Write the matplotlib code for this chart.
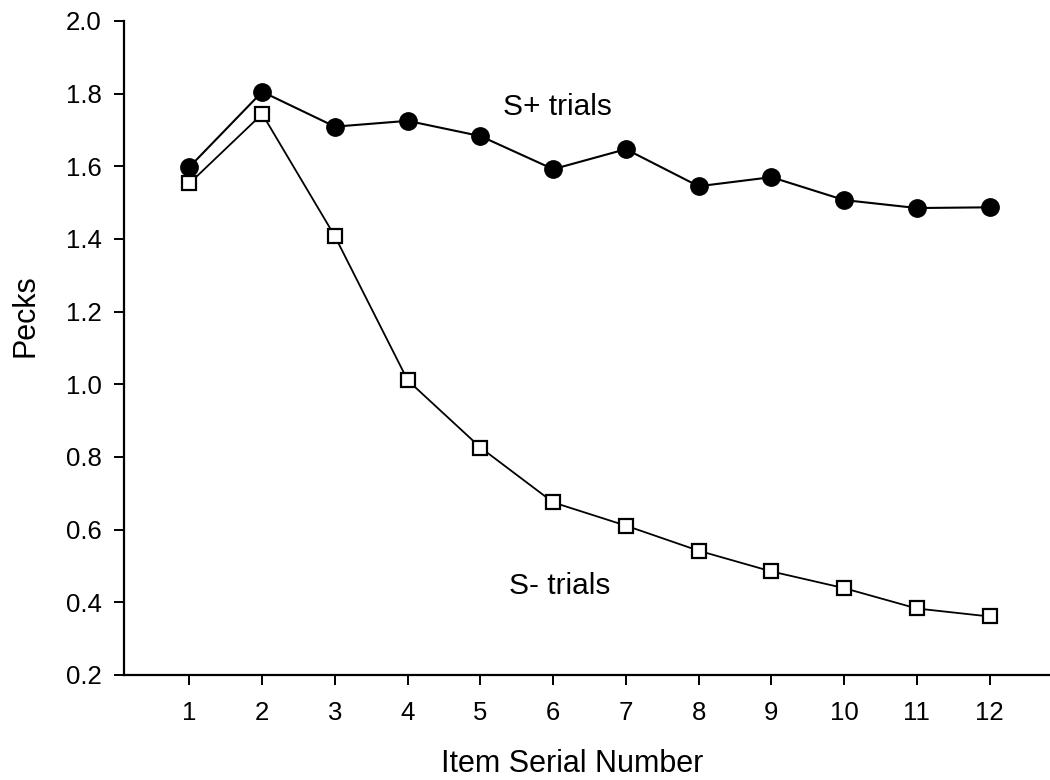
import matplotlib
matplotlib.use("Agg")
import matplotlib.pyplot as plt

plt.rcParams['font.family'] = ['Liberation Sans', 'DejaVu Sans']

items = [1, 2, 3, 4, 5, 6, 7, 8, 9, 10, 11, 12]
s_plus = [1.598, 1.805, 1.709, 1.725, 1.683, 1.592, 1.647, 1.545, 1.570, 1.507, 1.485, 1.487]
s_minus = [1.553, 1.744, 1.407, 1.011, 0.826, 0.675, 0.611, 0.542, 0.485, 0.439, 0.383, 0.361]
y_ticks = [0.2, 0.4, 0.6, 0.8, 1.0, 1.2, 1.4, 1.6, 1.8, 2.0]

fig = plt.figure(figsize=(10.5, 7.8), dpi=100)
ax = fig.add_axes([124/1050, 1 - 675/780, 1 - 124/1050, (675 - 20.9)/780])

ax.plot(items, s_minus, color='black', lw=1.3, marker='s', ms=10.5,
        mfc='white', mec='black', mew=1.6, zorder=3)
ax.plot(items, s_plus, color='black', lw=1.5, marker='o', ms=12.5,
        mfc='black', mec='black', zorder=4)

ax.text(6.06, 1.763, 'S+ trials', fontsize=21.5, ha='center', va='center')
ax.text(6.09, 0.446, 'S- trials', fontsize=21.5, ha='center', va='center')

ax.set_xlim(0.1, 12.83)
ax.set_ylim(0.2, 2.0)
ax.set_xticks(items)
ax.set_yticks(y_ticks)
ax.set_yticklabels([f"{v:.1f}" for v in y_ticks])
for s in ['top', 'right']:
    ax.spines[s].set_visible(False)
for s in ['left', 'bottom']:
    ax.spines[s].set_linewidth(1.6)
ax.tick_params(axis='both', direction='out', length=7, width=1.4, labelsize=18.5)
ax.tick_params(axis='x', pad=12)
ax.tick_params(axis='y', pad=9)

ax.set_xlabel('Item Serial Number', fontsize=22)
ax.xaxis.set_label_coords(0.4835, -0.148)
ax.xaxis.label.set_va('baseline')
ax.set_ylabel('Pecks', fontsize=22)
ax.yaxis.set_label_coords(-0.1069, 0.549)
ax.yaxis.label.set_va('center')

fig.savefig('out.png', dpi=100)
